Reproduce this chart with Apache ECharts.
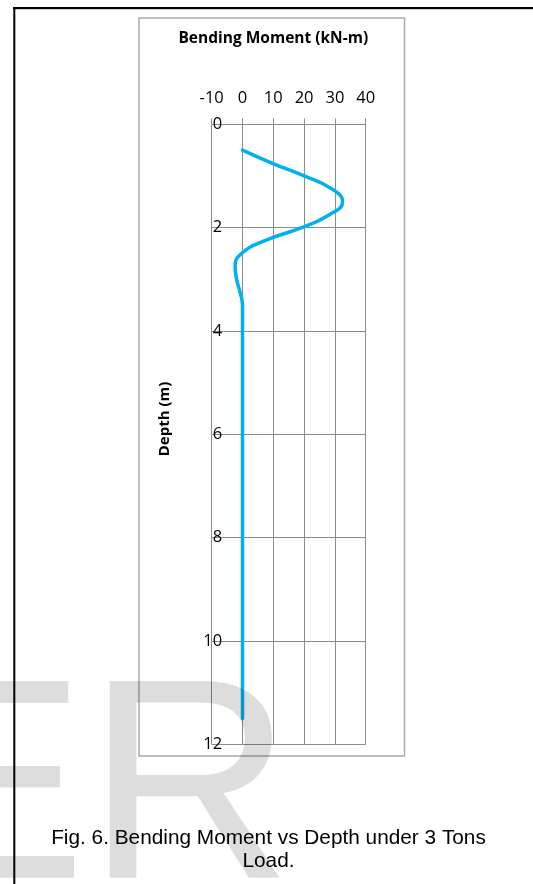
<!DOCTYPE html>
<html>
<head>
<meta charset="utf-8">
<script src="https://cdn.jsdelivr.net/npm/echarts@6/dist/echarts.min.js"></script>
<style>
  html, body { margin: 0; padding: 0; background: #ffffff; }
  #chart { width: 533px; height: 884px; }
</style>
</head>
<body>
<div id="chart"></div>
<script>
// Pile depth below ground (m) and the bending moment at that depth (kN-m)
const depthM = [0.5, 0.75, 1.0, 1.25, 1.5, 1.75, 2.0, 2.25, 2.5, 2.75, 3.0, 3.25, 3.5,
                4.0, 4.5, 5.0, 5.5, 6.0, 6.5, 7.0, 7.5, 8.0, 8.5, 9.0, 9.5, 10.0, 10.5, 11.0, 11.5];
const momentKNm = [0, 9.5, 20, 29, 32.5, 28.2, 19.2, 7.3, -0.3, -2.4, -1.9, -0.8, 0,
                   0, 0, 0, 0, 0, 0, 0, 0, 0, 0, 0, 0, 0, 0, 0, 0];

// Axis tick values
const momentTicks = [-10, 0, 10, 20, 30, 40];
const depthTicks = [0, 2, 4, 6, 8, 10, 12];

const chartTitle = 'Bending Moment (kN-m)';
const depthAxisTitle = 'Depth (m)';
const caption = 'Fig. 6. Bending Moment vs Depth under 3 Tons\nLoad.';
const watermark = 'ER';

const gridColor = '#8c8c8c';
const tickFont = '"Open Sans", "DejaVu Sans", sans-serif';

const chart = echarts.init(document.getElementById('chart'), null, { renderer: 'canvas' });

chart.setOption({
  backgroundColor: '#ffffff',
  animation: false,
  grid: { left: 211.7, top: 124.3, width: 154, height: 620, containLabel: false },
  xAxis: {
    type: 'value',
    position: 'top',
    min: momentTicks[0],
    max: momentTicks[momentTicks.length - 1],
    interval: momentTicks[1] - momentTicks[0],
    axisLine: { show: true, lineStyle: { color: gridColor, width: 1 } },
    axisTick: { show: true, inside: false, length: 6, lineStyle: { color: gridColor, width: 1 } },
    axisLabel: { color: '#000', fontSize: 16.5, fontFamily: tickFont, margin: 18 },
    splitLine: { show: true, lineStyle: { color: gridColor, width: 1 } }
  },
  yAxis: {
    type: 'value',
    inverse: true,
    min: depthTicks[0],
    max: depthTicks[depthTicks.length - 1],
    interval: depthTicks[1] - depthTicks[0],
    axisLine: { show: true, lineStyle: { color: gridColor, width: 1 } },
    axisTick: { show: false },
    axisLabel: { color: '#000', fontSize: 16.5, fontFamily: tickFont, margin: -10.5, align: 'right' },
    splitLine: { show: true, lineStyle: { color: gridColor, width: 1 } }
  },
  series: [{
    type: 'line',
    data: depthM.map((d, i) => [momentKNm[i], d]),
    smooth: 0.5,
    showSymbol: false,
    lineStyle: { color: '#00b0f0', width: 3.5, cap: 'round', join: 'round' },
    z: 5
  }],
  graphic: [
    // chart frame
    {
      type: 'rect', z: 1, silent: true,
      shape: { x: 139, y: 18, width: 265.5, height: 738 },
      style: { fill: null, stroke: '#aaaaaa', lineWidth: 1.5 }
    },
    {
      type: 'text', z: 10, silent: true,
      x: 273.3, y: 39,
      style: { text: chartTitle, fill: '#000', font: 'bold 15.5px "Open Sans", sans-serif',
               align: 'center', verticalAlign: 'middle' }
    },
    {
      type: 'text', z: 10, silent: true,
      x: 165, y: 419, rotation: Math.PI / 2,
      style: { text: depthAxisTitle, fill: '#000', font: 'bold 15px "Open Sans", sans-serif',
               align: 'center', verticalAlign: 'middle' }
    },
    // figure caption
    {
      type: 'text', z: 10, silent: true,
      x: 268.5, y: 827,
      style: { text: caption, fill: '#000', font: '20.8px "Liberation Sans", Arial, sans-serif',
               lineHeight: 23, align: 'center', verticalAlign: 'top' }
    },
    // journal watermark
    {
      type: 'text', z: 100, silent: true,
      x: -104.5, y: 799,
      style: { text: watermark, fill: 'rgba(0,0,0,0.135)', font: '286px "Liberation Sans", Arial, sans-serif',
               align: 'left', verticalAlign: 'middle' }
    },
    // page rules
    {
      type: 'line', z: 101, silent: true,
      shape: { x1: 13, y1: 8, x2: 533, y2: 8 },
      style: { stroke: '#000', lineWidth: 2 }
    },
    {
      type: 'line', z: 100, silent: true,
      shape: { x1: 15, y1: 9.5, x2: 533, y2: 9.5 },
      style: { stroke: '#cfcfcf', lineWidth: 1 }
    },
    {
      type: 'line', z: 101, silent: true,
      shape: { x1: 14.3, y1: 7, x2: 14.3, y2: 884 },
      style: { stroke: '#000', lineWidth: 2 }
    }
  ]
});
</script>
</body>
</html>
